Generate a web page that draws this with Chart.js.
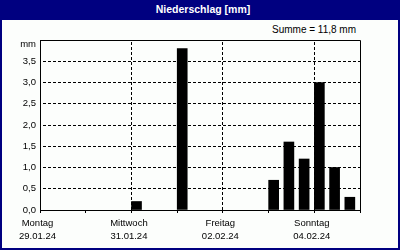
<!DOCTYPE html>
<html>
<head>
<meta charset="utf-8">
<script src="https://cdn.jsdelivr.net/npm/chart.js@4"></script>
<style>
    body { margin: 0; background: #fff; }
    #frame {
        position: absolute; left: 0; top: 0;
        width: 400px; height: 250px;
        background: #000080;
    }
    #title {
        position: absolute; left: 0; top: 0; width: 400px; height: 20px;
        color: #fff; font: bold 10.5px "Liberation Sans", Arial, sans-serif;
        line-height: 18px; text-align: center; text-indent: 6px;
    }
    #inner {
        position: absolute; left: 2px; top: 20px;
        width: 396px; height: 228px;
        background: #fcfefc;
    }
    #summe {
        position: absolute; right: 42px; top: 3px;
        font: 10px "Liberation Sans", Arial, sans-serif; line-height: 14px;
        color: #000;
    }
    canvas { position: absolute; left: 0; top: 0; }
</style>
</head>
<body>
<div id="frame">
    <div id="title">Niederschlag [mm]</div>
    <div id="inner">
        <div id="summe"></div>
        <canvas id="rainChart" width="396" height="228"></canvas>
    </div>
</div>
<script>
// --- Data ---
// precipitation per 8-hour bin, starting Mon 29.01.24 00:00
const binHours = 8;
const rainValues = [0, 0, 0, 0, 0, 0, 0.2, 0, 0, 3.8, 0, 0, 0, 0, 0, 0.7, 1.6, 1.2, 3.0, 1.0, 0.3];
const xTickLabels = [
    ['Montag', '29.01.24'],
    ['Mittwoch', '31.01.24'],
    ['Freitag', '02.02.24'],
    ['Sonntag', '04.02.24']
];
const yUnitLabel = 'mm';

const totalHours = rainValues.length * binHours;
const total = rainValues.reduce((a, b) => a + b, 0);
document.getElementById('summe').textContent =
    'Summe = ' + total.toFixed(1).replace('.', ',') + ' ' + yUnitLabel;

// bars sit in the left two thirds of each bin; empty bins are skipped
const points = rainValues.map((v, i) => ({ x: i * binHours + binHours / 3, y: v > 0 ? v : null }));

const labelFont = { family: '"Liberation Sans", Arial, sans-serif', size: 9.5, lineHeight: 1.45 };

// --- Plot frame (top and right border) + unit label ---
const frameBox = {
    id: 'frameBox',
    afterDraw(chart) {
        const { ctx, chartArea: a } = chart;
        ctx.save();
        ctx.strokeStyle = '#000';
        ctx.lineWidth = 1;
        ctx.beginPath();
        ctx.moveTo(Math.round(a.left) + 0.5, Math.round(a.top) + 0.5);
        ctx.lineTo(Math.round(a.right) + 0.5, Math.round(a.top) + 0.5);
        ctx.lineTo(Math.round(a.right) + 0.5, Math.round(a.bottom) + 0.5);
        ctx.stroke();

        // unit sits where the top tick label would be, a bit lower
        ctx.fillStyle = '#000';
        ctx.font = '9.5px "Liberation Sans", Arial, sans-serif';
        ctx.textAlign = 'right';
        ctx.textBaseline = 'middle';
        ctx.fillText(yUnitLabel, a.left - 4, a.top + 4);
        ctx.restore();
    }
};

const ctx = document.getElementById('rainChart').getContext('2d');
new Chart(ctx, {
    type: 'bar',
    data: {
        datasets: [{
            data: points,
            backgroundColor: '#000',
            borderWidth: 0,
            barThickness: 10
        }]
    },
    options: {
        responsive: false,
        animation: false,
        skipNull: true,
        layout: { padding: { left: 0, right: 38, top: 20, bottom: 0 } },
        plugins: { legend: { display: false }, tooltip: { enabled: false } },
        scales: {
            x: {
                type: 'linear',
                offset: false,
                min: 0,
                max: totalHours,
                afterFit: (s) => { s.height = 38; },
                ticks: {
                    stepSize: 24,
                    autoSkip: false,
                    maxRotation: 0,
                    padding: 3,
                    labelOffset: -2.5,
                    color: '#000',
                    font: labelFont,
                    callback: (v) => (v % 48 === 0 ? xTickLabels[v / 48] : '')
                },
                grid: {
                    offset: false,
                    color: (c) => (c.tick && c.tick.value % 48 === 0 && c.tick.value > 0 && c.tick.value < totalHours ? '#000' : 'rgba(0,0,0,0)'),
                    tickColor: '#000',
                    tickLength: 3
                },
                border: { color: '#000', width: 1, dash: [3, 2], dashOffset: 3 }
            },
            y: {
                min: 0,
                max: 4,
                afterFit: (s) => { s.width = 38; },
                ticks: {
                    stepSize: 0.5,
                    padding: 4,
                    color: '#000',
                    font: labelFont,
                    callback: (v) => (v === 4 ? '' : v.toFixed(1).replace('.', ','))
                },
                grid: {
                    drawTicks: false,
                    color: (c) => (c.tick && c.tick.value > 0 && c.tick.value < 4 ? '#000' : 'rgba(0,0,0,0)')
                },
                border: { color: '#000', width: 1, dash: [3, 2], dashOffset: 3 }
            }
        }
    },
    plugins: [frameBox]
});
</script>
</body>
</html>
